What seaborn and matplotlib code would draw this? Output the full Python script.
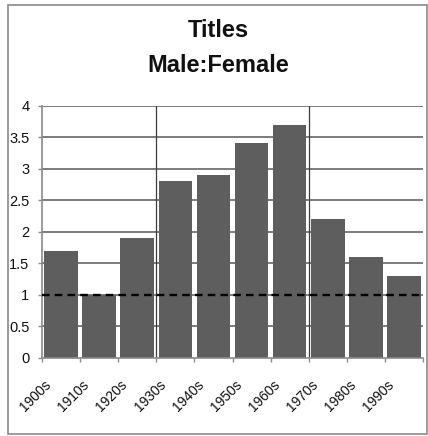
import matplotlib
matplotlib.use("Agg")
import matplotlib.pyplot as plt
from matplotlib import font_manager
from matplotlib.patches import Rectangle
from matplotlib.transforms import ScaledTranslation
import seaborn as sns
import pandas as pd

# Ratio of male to female title characters per decade
decades = ["1900s", "1910s", "1920s", "1930s", "1940s",
           "1950s", "1960s", "1970s", "1980s", "1990s"]
ratios = [1.7, 1.0, 1.9, 2.8, 2.9, 3.4, 3.7, 2.2, 1.6, 1.3]
y_ticks = [0, 0.5, 1, 1.5, 2, 2.5, 3, 3.5, 4]
y_tick_labels = ["0", "0.5", "1", "1.5", "2", "2.5", "3", "3.5", "4"]
parity = 1.0
title_lines = ["Titles", "Male:Female"]

df = pd.DataFrame({"decade": decades, "ratio": ratios})

sns.set_theme(style="white")
plt.rcParams["font.family"] = ["Liberation Sans", "DejaVu Sans"]

W, H = 428, 436
fig = plt.figure(figsize=(W / 100, H / 100), dpi=100)
fig.patch.set_facecolor("white")

# outer chart frame
fig.patches.append(Rectangle((8 / W, 1 - 434 / H), 419 / W, 429 / H,
                             transform=fig.transFigure, fill=False,
                             edgecolor="#8a8a8a", linewidth=1.2))

left, right, top, bottom = 42, 423, 105.7, 357.7
ax = fig.add_axes([left / W, 1 - bottom / H, (right - left) / W, (bottom - top) / H])

ax.set_axisbelow(True)
for yv in y_ticks[1:]:
    ax.axhline(yv, color="#7c7c7c", linewidth=1.4, zorder=0)
for xv in (2.5, 6.5):
    ax.axvline(xv, color="#3c3c3c", linewidth=0.9, zorder=0)

sns.barplot(data=df, x="decade", y="ratio", color="#5e5e5e", saturation=1,
            width=0.88, edgecolor="none", ax=ax, zorder=2)

ax.axhline(parity, color="black", linewidth=1.7, linestyle=(0, (3.2, 2.2)), zorder=3)

ax.set_xlim(-0.5, len(decades) - 0.5)
ax.set_ylim(0, 4)
ax.set_xlabel("")
ax.set_ylabel("")

for s in ("top", "right"):
    ax.spines[s].set_visible(False)
for s in ("left", "bottom"):
    ax.spines[s].set_color("#8a8a8a")
    ax.spines[s].set_linewidth(1.2)

ax.set_yticks(y_ticks)
ax.set_yticklabels(y_tick_labels)
ax.tick_params(axis="y", which="major", left=True, length=3, width=1,
               color="#8a8a8a", pad=6, labelsize=10.5, labelcolor="#111111")

ax.set_xticks(range(len(decades)))
ax.set_xticklabels(decades, rotation=45, ha="right", va="center",
                   rotation_mode="anchor", fontsize=10, color="#111111")
ax.tick_params(axis="x", which="major", bottom=True, length=0, pad=18)
ax.set_xticks([i - 0.5 for i in range(len(decades) + 1)], minor=True)
ax.tick_params(axis="x", which="minor", bottom=True, length=3, width=1,
               color="#8a8a8a")
shift = ScaledTranslation(-12 / 100, 0, fig.dpi_scale_trans)
for lbl in ax.get_xticklabels():
    lbl.set_transform(lbl.get_transform() + shift)

# title, two lines
names = {f.name for f in font_manager.fontManager.ttflist}
if "Liberation Sans Narrow" in names:
    tfam, tsize = ["Liberation Sans Narrow", "DejaVu Sans"], 19
else:
    tfam, tsize = ["Liberation Sans", "DejaVu Sans"], 17
for line, base in zip(title_lines, (37, 72)):
    fig.text(218 / W, 1 - base / H, line, ha="center", va="baseline",
             fontsize=tsize, fontweight="bold", family=tfam, color="#111111")

fig.savefig("out.png", dpi=100, facecolor="white")
